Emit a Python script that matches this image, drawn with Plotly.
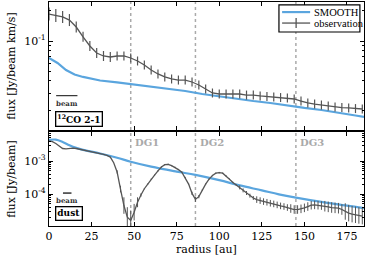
import numpy as np
import plotly.graph_objects as go

# ---------------- data ----------------
co_radius = list(range(0, 185, 4))
co_obs = [0.186, 0.180, 0.174, 0.162, 0.138, 0.110, 0.0891, 0.0759, 0.0708, 0.0692,
          0.0708, 0.0708, 0.0676, 0.0631, 0.0575, 0.0513, 0.0468, 0.0437, 0.0417, 0.0407,
          0.0407, 0.0389, 0.0363, 0.0331, 0.0302, 0.0295, 0.0295, 0.0295, 0.0295, 0.0288,
          0.0288, 0.0282, 0.0279, 0.0275, 0.0272, 0.0269, 0.0263, 0.0251, 0.0240, 0.0234,
          0.0229, 0.0224, 0.0219, 0.0216, 0.0214, 0.0211, 0.0209]
co_obs_err_dex = [0.065, 0.065, 0.06, 0.06, 0.055, 0.05, 0.05, 0.05, 0.05, 0.05,
                  0.045, 0.045, 0.045, 0.045, 0.045, 0.045, 0.045, 0.045, 0.045, 0.045,
                  0.045, 0.045, 0.045, 0.045, 0.045, 0.045, 0.045, 0.045, 0.045, 0.045,
                  0.045, 0.045, 0.045, 0.045, 0.045, 0.045, 0.045, 0.045, 0.045, 0.045,
                  0.045, 0.045, 0.045, 0.045, 0.045, 0.045, 0.045]
co_smooth_radius = [0, 5, 10, 15, 20, 25, 30, 40, 50, 60, 70, 80, 90, 100, 110, 120,
                    130, 140, 150, 160, 170, 180, 185]
co_smooth = [0.0676, 0.0603, 0.0513, 0.0462, 0.0437, 0.0417, 0.0403, 0.0385, 0.0367,
             0.0351, 0.0335, 0.0316, 0.0295, 0.0279, 0.0263, 0.0251, 0.0240, 0.0226,
             0.0214, 0.0204, 0.0193, 0.0180, 0.0174]

dust_radius = list(range(0, 185, 2))
dust_obs_log10 = [-2.39, -2.41, -2.47, -2.56, -2.62, -2.63, -2.61, -2.61, -2.62, -2.64,
                  -2.66, -2.68, -2.70, -2.72, -2.75, -2.77, -2.80, -2.83, -2.88, -3.05,
                  -3.33, -3.85, -4.35, -4.70, -4.80, -4.55, -4.25, -4.03, -3.84, -3.70,
                  -3.55, -3.43, -3.30, -3.18, -3.11, -3.10, -3.14, -3.19, -3.26, -3.34,
                  -3.50, -3.70, -3.98, -4.16, -4.08, -3.88, -3.70, -3.55, -3.44, -3.37,
                  -3.35, -3.37, -3.45, -3.55, -3.65, -3.73, -3.80, -3.89, -3.97, -4.05,
                  -4.12, -4.17, -4.20, -4.23, -4.25, -4.28, -4.30, -4.33, -4.36, -4.38,
                  -4.41, -4.44, -4.47, -4.47, -4.45, -4.42, -4.38, -4.34, -4.33, -4.34,
                  -4.35, -4.37, -4.39, -4.41, -4.42, -4.43, -4.47, -4.53, -4.58, -4.61,
                  -4.63, -4.65, -4.67]
dust_err_dex = [0, 0, 0, 0, 0, 0, 0, 0, 0, 0,
                0, 0, 0, 0, 0, 0, 0, 0, 0, 0,
                0.05, 0.1, 0.25, 0.3, 0.3, 0.25, 0.15, 0.05, 0.02, 0.02,
                0.02, 0.02, 0.02, 0.02, 0.02, 0.02, 0.02, 0.02, 0.02, 0.02,
                0.02, 0.02, 0.05, 0.08, 0.05, 0.02, 0.02, 0.02, 0.02, 0.02,
                0.02, 0.02, 0.02, 0.02, 0.02, 0.02, 0.06, 0.06, 0.06, 0.06,
                0.06, 0.1, 0.1, 0.1, 0.1, 0.1, 0.1, 0.1, 0.1, 0.1,
                0.1, 0.13, 0.13, 0.13, 0.13, 0.13, 0.13, 0.13, 0.13, 0.13,
                0.13, 0.16, 0.16, 0.16, 0.16, 0.16, 0.16, 0.25, 0.25, 0.25,
                0.25, 0.25, 0.25]
dust_smooth_radius = [0, 4, 8, 12, 16, 20, 30, 40, 48, 60, 75, 86, 100, 112, 125, 135,
                      145, 160, 175, 185]
dust_smooth_log10 = [-2.36, -2.35, -2.42, -2.52, -2.60, -2.66, -2.77, -2.90, -3.02,
                     -3.17, -3.32, -3.42, -3.58, -3.74, -3.89, -4.01, -4.11, -4.24,
                     -4.35, -4.43]

gap_names = ["DG1", "DG2", "DG3"]
gap_radius = [48, 86, 145]
x_ticks = [0, 25, 50, 75, 100, 125, 150, 175]
legend_labels = ["SMOOTH", "observation"]
co_beam_au = 12.5
dust_beam_au = 5.0

# ---------------- derived ----------------
co_obs_a = np.array(co_obs)
co_e = np.array(co_obs_err_dex)
co_plus = co_obs_a * (10 ** co_e - 1)
co_minus = co_obs_a * (1 - 10 ** (-co_e))

dust_obs = 10 ** np.array(dust_obs_log10)
d_e = np.array(dust_err_dex)
dust_plus = dust_obs * (10 ** d_e - 1)
dust_minus = dust_obs * (1 - 10 ** (-d_e))
dust_smooth = 10 ** np.array(dust_smooth_log10)

BLUE = "#5aa5de"
GRAY = "#555555"
GAPC = "#aaaaaa"
FONT = "DejaVu Serif"
LFONT = "Liberation Serif"

fig = go.Figure()
fig.add_trace(go.Scatter(x=co_smooth_radius, y=co_smooth, mode="lines", name=legend_labels[0],
                         line=dict(color=BLUE, width=2.2), xaxis="x", yaxis="y",
                         showlegend=False))
fig.add_trace(go.Scatter(x=co_radius, y=co_obs, mode="lines", name=legend_labels[1],
                         line=dict(color=GRAY, width=1.3),
                         error_y=dict(type="data", symmetric=False, array=co_plus,
                                      arrayminus=co_minus, width=0, thickness=1.2,
                                      color=GRAY),
                         xaxis="x", yaxis="y", showlegend=False))
fig.add_trace(go.Scatter(x=dust_smooth_radius, y=dust_smooth, mode="lines",
                         line=dict(color=BLUE, width=2.2, shape="spline"),
                         showlegend=False, xaxis="x2", yaxis="y2"))
fig.add_trace(go.Scatter(x=dust_radius, y=dust_obs, mode="lines",
                         line=dict(color=GRAY, width=1.3),
                         error_y=dict(type="data", symmetric=False, array=dust_plus,
                                      arrayminus=dust_minus, width=0, thickness=1,
                                      color=GRAY),
                         showlegend=False, xaxis="x2", yaxis="y2"))

axis_common = dict(showline=True, linecolor="black", linewidth=1.3, mirror="allticks",
                   ticks="inside", ticklen=4, tickcolor="black", showgrid=False,
                   zeroline=False, automargin=False,
                   tickfont=dict(family=FONT, size=11, color="black"))

TOP_DOM = [0.4286, 1.0]
BOT_DOM = [0.0, 0.4196]

fig.update_layout(
    width=366, height=260,
    margin=dict(l=49, r=2, t=2, b=34),
    paper_bgcolor="white", plot_bgcolor="white",
    font=dict(family=FONT, size=11, color="black"),
    showlegend=False,
    xaxis=dict(range=[0, 185], tickvals=x_ticks, showticklabels=False, anchor="y",
               **axis_common),
    yaxis=dict(type="log", range=[-1.89, -0.61], domain=TOP_DOM, anchor="x",
               tickvals=[0.1], ticktext=["10<sup>-1</sup>"],
               minor=dict(ticks="inside", ticklen=2, tickcolor="black", dtick="D1"),
               title=dict(text="flux [Jy/beam km/s]", standoff=6,
                          font=dict(family=FONT, size=11)),
               **axis_common),
    xaxis2=dict(range=[0, 185], tickvals=x_ticks, anchor="y2",
                title=dict(text="radius [au]", standoff=2, font=dict(family=FONT, size=11)),
                **axis_common),
    yaxis2=dict(type="log", range=[-4.97, -2.12], domain=BOT_DOM, anchor="x2",
                tickvals=[1e-3, 1e-4], ticktext=["10<sup>-3</sup>", "10<sup>-4</sup>"],
                minor=dict(ticks="inside", ticklen=2, tickcolor="black", dtick="D1"),
                title=dict(text="flux [Jy/beam]", standoff=6,
                           font=dict(family=FONT, size=11)),
                **axis_common),
)

shapes = []
for r in gap_radius:
    shapes.append(dict(type="line", xref="x", yref="paper", x0=r, x1=r, y0=0, y1=1,
                       line=dict(color=GAPC, width=1.5, dash="dot"), layer="below"))
# beam bars
shapes.append(dict(type="line", xref="x", yref="paper", x0=4.2, x1=4.2 + co_beam_au,
                   y0=0.582, y1=0.582, line=dict(color="#333333", width=1.2)))
shapes.append(dict(type="line", xref="x", yref="paper", x0=8.2, x1=8.2 + dust_beam_au,
                   y0=0.147, y1=0.147, line=dict(color="#333333", width=1.5)))
# legend box and symbols
shapes.append(dict(type="rect", xref="paper", yref="paper", x0=0.730, x1=0.987,
                   y0=0.866, y1=0.987, line=dict(color="black", width=1.2),
                   fillcolor="white", layer="above"))
shapes.append(dict(type="line", xref="paper", yref="paper", x0=0.740, x1=0.829,
                   y0=0.955, y1=0.955, line=dict(color=BLUE, width=2.2), layer="above"))
shapes.append(dict(type="line", xref="paper", yref="paper", x0=0.740, x1=0.829,
                   y0=0.906, y1=0.906, line=dict(color=GRAY, width=1.3), layer="above"))
shapes.append(dict(type="line", xref="paper", yref="paper", x0=0.7845, x1=0.7845,
                   y0=0.884, y1=0.929, line=dict(color=GRAY, width=1.3), layer="above"))
fig.update_layout(shapes=shapes)

ann = []
for name, r in zip(gap_names, gap_radius):
    ann.append(dict(x=r + 1.5, y=0.372, xref="x", yref="paper", text="<b>%s</b>" % name,
                    showarrow=False, xanchor="left", yanchor="middle",
                    font=dict(family=FONT, size=10, color=GAPC)))
ann.append(dict(x=10.4, y=0.549, xref="x", yref="paper", text="<b>beam</b>",
                showarrow=False, xanchor="center", yanchor="middle",
                font=dict(family=FONT, size=7, color="#333333")))
ann.append(dict(x=10.6, y=0.112, xref="x", yref="paper", text="<b>beam</b>",
                showarrow=False, xanchor="center", yanchor="middle",
                font=dict(family=FONT, size=7, color="#333333")))
ann.append(dict(x=17.6, y=0.478, xref="x", yref="paper", text="<b><sup>12</sup>CO 2-1</b>",
                showarrow=False, xanchor="center", yanchor="middle",
                bordercolor="black", borderwidth=1.3, borderpad=1,
                bgcolor="white", font=dict(family=FONT, size=9, color="black")))
ann.append(dict(x=11.8, y=0.054, xref="x", yref="paper", text="<b>dust</b>",
                showarrow=False, xanchor="center", yanchor="middle",
                bordercolor="black", borderwidth=1.3, borderpad=1,
                bgcolor="white", font=dict(family=FONT, size=9, color="black")))
for lab, yy in zip(legend_labels, [0.955, 0.906]):
    ann.append(dict(x=0.835, y=yy, xref="paper", yref="paper", text=lab,
                    showarrow=False, xanchor="left", yanchor="middle",
                    font=dict(family=LFONT, size=10.5, color="black")))
fig.update_layout(annotations=ann)

fig.write_html("out.html", post_script="document.body.style.margin='0';",
               config={"displayModeBar": False})
